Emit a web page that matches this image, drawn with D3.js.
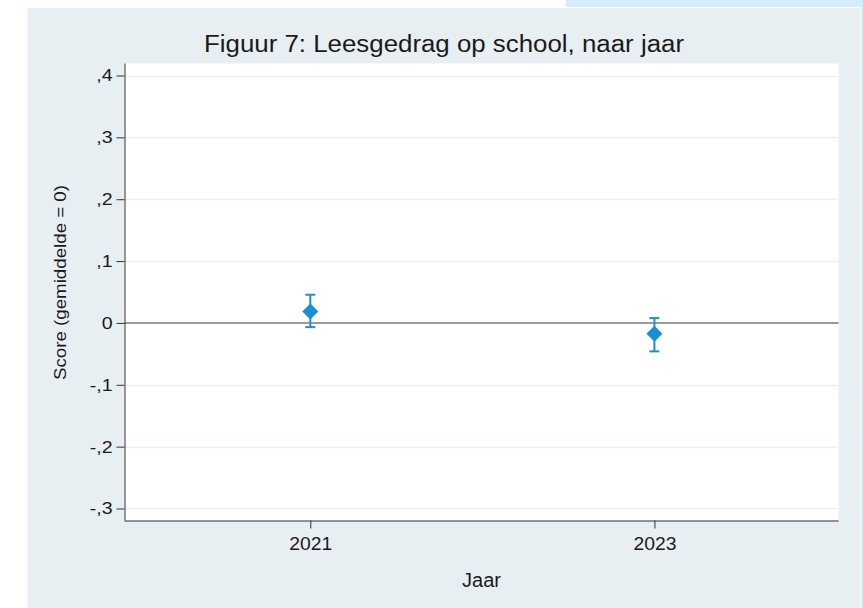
<!DOCTYPE html>
<html>
<head>
<meta charset="utf-8">
<script src="https://cdn.jsdelivr.net/npm/d3@7"></script>
<style>
  body { margin: 0; background: #ffffff; }
  svg { display: block; font-family: "Liberation Sans", Arial, sans-serif; }
</style>
</head>
<body>
<div id="chart"></div>
<script>
// data
var years = [2021, 2023];
var scores = [0.0186, -0.0175];
var ciLow = [-0.0068, -0.046];
var ciHigh = [0.0456, 0.0078];
var yTicks = [-0.3, -0.2, -0.1, 0, 0.1, 0.2, 0.3, 0.4];
var yTickLabels = ["-,3", "-,2", "-,1", "0", ",1", ",2", ",3", ",4"];

var W = 863, H = 608;
var plot = {left: 124.5, right: 838.5, top: 63.5, bottom: 520.5};
var blue = "#1b8fd5";
var ink = "#1a1a1a";

// the exported graph has its text a bit wider than normal, stretch it horizontally
function stretch(sel, k) {
  sel.each(function() {
    var t = d3.select(this);
    var x0 = +t.attr("x") || 0;
    t.attr("x", x0 / k).attr("transform", "scale(" + k + ",1)");
  });
}

var svg = d3.select("#chart").append("svg")
  .attr("width", W)
  .attr("height", H);

// highlight strip behind the picture (top right)
svg.append("rect")
  .attr("x", 566).attr("y", 0)
  .attr("width", W - 566).attr("height", H)
  .attr("fill", "#d5edf9");

// graph region
svg.append("rect")
  .attr("x", 27).attr("y", 7.5)
  .attr("width", 833.5).attr("height", H)
  .attr("fill", "#e8eff2")
  .attr("stroke", "#ffffff")
  .attr("stroke-width", 1);

// plot region
svg.append("rect")
  .attr("x", plot.left).attr("y", plot.top)
  .attr("width", plot.right - plot.left)
  .attr("height", plot.bottom - plot.top)
  .attr("fill", "#ffffff");

var x = d3.scaleLinear()
  .domain([2019.92, 2024.07])
  .range([plot.left, plot.right]);

var y = d3.scaleLinear()
  .domain([-0.3194, 0.4194])
  .range([plot.bottom, plot.top]);

// grid lines
svg.append("g")
  .selectAll("line")
  .data(yTicks.filter(function(d) { return d != 0; }))
  .enter()
  .append("line")
  .attr("x1", plot.left).attr("x2", plot.right)
  .attr("y1", function(d) { return Math.round(y(d)) + 0.5; })
  .attr("y2", function(d) { return Math.round(y(d)) + 0.5; })
  .attr("stroke", "#eaf1f3")
  .attr("stroke-width", 1.5);

// reference line at 0
svg.append("line")
  .attr("x1", plot.left).attr("x2", plot.right)
  .attr("y1", y(0)).attr("y2", y(0))
  .attr("stroke", "#7a7a7a")
  .attr("stroke-width", 1.5);

// y axis
var yAxis = d3.axisLeft(y)
  .tickValues(yTicks)
  .tickSize(8)
  .tickPadding(4)
  .tickFormat(function(d, i) { return yTickLabels[i]; });

var gy = svg.append("g")
  .attr("transform", "translate(" + plot.left + ",0)")
  .call(yAxis);
gy.select(".domain").attr("stroke", "#333333").attr("d",
  "M0.5," + plot.top + "V" + plot.bottom);
gy.selectAll(".tick line").attr("stroke", "#333333");
gy.selectAll(".tick text")
  .attr("font-family", "Liberation Sans, Arial, sans-serif")
  .attr("font-size", "17px")
  .attr("fill", ink)
  .call(stretch, 1.15);

// x axis
var xAxis = d3.axisBottom(x)
  .tickValues(years)
  .tickSize(8)
  .tickPadding(8)
  .tickFormat(d3.format("d"));

var gx = svg.append("g")
  .attr("transform", "translate(0," + plot.bottom + ")")
  .call(xAxis);
gx.select(".domain").attr("stroke", "#333333").attr("d",
  "M" + plot.left + ",0.5H" + plot.right);
gx.selectAll(".tick line").attr("stroke", "#333333");
gx.selectAll(".tick text")
  .attr("font-family", "Liberation Sans, Arial, sans-serif")
  .attr("font-size", "19px")
  .attr("fill", ink)
  .attr("textLength", 43)
  .attr("lengthAdjust", "spacingAndGlyphs");

// error bars
var bars = svg.append("g")
  .selectAll("g")
  .data(years)
  .enter()
  .append("g");

bars.append("line")
  .attr("x1", function(d) { return x(d); })
  .attr("x2", function(d) { return x(d); })
  .attr("y1", function(d, i) { return y(ciLow[i]); })
  .attr("y2", function(d, i) { return y(ciHigh[i]); })
  .attr("stroke", blue).attr("stroke-width", 2);

[ciLow, ciHigh].forEach(function(arr) {
  bars.append("line")
    .attr("x1", function(d) { return x(d) - 5; })
    .attr("x2", function(d) { return x(d) + 5; })
    .attr("y1", function(d, i) { return y(arr[i]); })
    .attr("y2", function(d, i) { return y(arr[i]); })
    .attr("stroke", blue).attr("stroke-width", 2);
});

// diamonds
bars.append("path")
  .attr("d", function(d, i) {
    var cx = x(d), cy = y(scores[i]), r = 8;
    return "M" + cx + "," + (cy - r) + "L" + (cx + r) + "," + cy +
      "L" + cx + "," + (cy + r) + "L" + (cx - r) + "," + cy + "Z";
  })
  .attr("fill", blue);

// titles
svg.append("text")
  .attr("x", 444).attr("y", 51.5)
  .attr("text-anchor", "middle")
  .attr("font-size", "23.5px")
  .attr("fill", ink)
  .attr("textLength", 480)
  .attr("lengthAdjust", "spacingAndGlyphs")
  .text("Figuur 7: Leesgedrag op school, naar jaar");

svg.append("text")
  .attr("transform", "translate(65.5,282.5) rotate(-90)")
  .attr("text-anchor", "middle")
  .attr("font-size", "17px")
  .attr("fill", ink)
  .attr("textLength", 195)
  .attr("lengthAdjust", "spacingAndGlyphs")
  .text("Score (gemiddelde = 0)");

svg.append("text")
  .attr("x", (plot.left + plot.right) / 2).attr("y", 586.5)
  .attr("text-anchor", "middle")
  .attr("font-size", "20px")
  .attr("fill", ink)
  .text("Jaar");
</script>
</body>
</html>
